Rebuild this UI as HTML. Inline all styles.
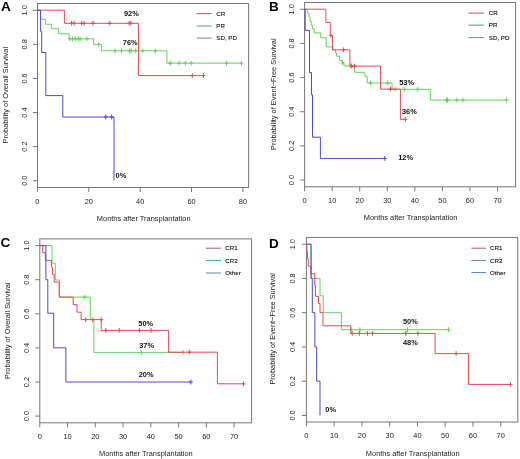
<!DOCTYPE html>
<html><head><meta charset="utf-8"><style>
html,body{margin:0;padding:0;background:#fff;}
svg{display:block;filter:blur(0.3px);}
text{font-family:"Liberation Sans",sans-serif;}
</style></head><body>
<svg width="520" height="459" viewBox="0 0 520 459">
<rect width="520" height="459" fill="#fff"/>
<rect x="37.5" y="3.5" width="211.1" height="184.0" fill="none" stroke="#777" stroke-width="1"/>
<line x1="37.40" y1="187.50" x2="37.40" y2="192.00" stroke="#777" stroke-width="1.0"/>
<text x="37.40" y="203.60" font-size="7.4" text-anchor="middle" fill="#222" font-weight="normal">0</text>
<line x1="88.78" y1="187.50" x2="88.78" y2="192.00" stroke="#777" stroke-width="1.0"/>
<text x="88.78" y="203.60" font-size="7.4" text-anchor="middle" fill="#222" font-weight="normal">20</text>
<line x1="140.16" y1="187.50" x2="140.16" y2="192.00" stroke="#777" stroke-width="1.0"/>
<text x="140.16" y="203.60" font-size="7.4" text-anchor="middle" fill="#222" font-weight="normal">40</text>
<line x1="191.54" y1="187.50" x2="191.54" y2="192.00" stroke="#777" stroke-width="1.0"/>
<text x="191.54" y="203.60" font-size="7.4" text-anchor="middle" fill="#222" font-weight="normal">60</text>
<line x1="242.92" y1="187.50" x2="242.92" y2="192.00" stroke="#777" stroke-width="1.0"/>
<text x="242.92" y="203.60" font-size="7.4" text-anchor="middle" fill="#222" font-weight="normal">80</text>
<line x1="33.00" y1="180.70" x2="37.50" y2="180.70" stroke="#777" stroke-width="1.0"/>
<text x="26.80" y="180.70" font-size="7.4" text-anchor="middle" fill="#222" font-weight="normal" transform="rotate(-90 26.80 180.70)">0.0</text>
<line x1="33.00" y1="146.62" x2="37.50" y2="146.62" stroke="#777" stroke-width="1.0"/>
<text x="26.80" y="146.62" font-size="7.4" text-anchor="middle" fill="#222" font-weight="normal" transform="rotate(-90 26.80 146.62)">0.2</text>
<line x1="33.00" y1="112.54" x2="37.50" y2="112.54" stroke="#777" stroke-width="1.0"/>
<text x="26.80" y="112.54" font-size="7.4" text-anchor="middle" fill="#222" font-weight="normal" transform="rotate(-90 26.80 112.54)">0.4</text>
<line x1="33.00" y1="78.46" x2="37.50" y2="78.46" stroke="#777" stroke-width="1.0"/>
<text x="26.80" y="78.46" font-size="7.4" text-anchor="middle" fill="#222" font-weight="normal" transform="rotate(-90 26.80 78.46)">0.6</text>
<line x1="33.00" y1="44.38" x2="37.50" y2="44.38" stroke="#777" stroke-width="1.0"/>
<text x="26.80" y="44.38" font-size="7.4" text-anchor="middle" fill="#222" font-weight="normal" transform="rotate(-90 26.80 44.38)">0.8</text>
<line x1="33.00" y1="10.30" x2="37.50" y2="10.30" stroke="#777" stroke-width="1.0"/>
<text x="26.80" y="10.30" font-size="7.4" text-anchor="middle" fill="#222" font-weight="normal" transform="rotate(-90 26.80 10.30)">1.0</text>
<text x="8.20" y="95.20" font-size="7.4" text-anchor="middle" fill="#222" font-weight="normal" transform="rotate(-90 8.20 95.20)">Probability of Overall Survival</text>
<text x="143.70" y="220.50" font-size="7.4" text-anchor="middle" fill="#222" font-weight="normal">Months after Transplantation</text>
<text x="0.90" y="10.60" font-size="13.5" text-anchor="start" fill="#000" font-weight="bold">A</text>
<line x1="196.70" y1="13.60" x2="211.70" y2="13.60" stroke="#c0505c" stroke-width="1.0"/>
<text x="216.30" y="15.80" font-size="6.2" text-anchor="start" fill="#111" font-weight="normal" stroke="#111" stroke-width="0.12">CR</text>
<line x1="196.70" y1="26.00" x2="211.70" y2="26.00" stroke="#48a870" stroke-width="1.0"/>
<text x="216.30" y="28.20" font-size="6.2" text-anchor="start" fill="#111" font-weight="normal" stroke="#111" stroke-width="0.12">PR</text>
<line x1="196.70" y1="38.10" x2="211.70" y2="38.10" stroke="#5a88c4" stroke-width="1.0"/>
<text x="216.30" y="40.30" font-size="6.2" text-anchor="start" fill="#111" font-weight="normal" stroke="#111" stroke-width="0.12">SD, PD</text>
<polyline points="37.40,10.20 40.80,10.20 40.80,19.30 45.60,19.30 45.60,24.30 51.40,24.30 51.40,28.70 58.60,28.70 58.60,33.80 69.20,33.80 69.20,38.80 93.70,38.80 93.70,44.40 101.40,44.40 101.40,50.80 166.90,50.80 166.90,63.10 241.50,63.10" fill="none" stroke="#5fd65a" stroke-width="1.0" stroke-linejoin="miter"/>
<line x1="69.60" y1="36.40" x2="69.60" y2="41.20" stroke="#5fd65a" stroke-width="1.0"/>
<line x1="67.60" y1="38.80" x2="71.60" y2="38.80" stroke="#5fd65a" stroke-width="1.0"/>
<line x1="72.50" y1="36.40" x2="72.50" y2="41.20" stroke="#5fd65a" stroke-width="1.0"/>
<line x1="70.50" y1="38.80" x2="74.50" y2="38.80" stroke="#5fd65a" stroke-width="1.0"/>
<line x1="75.40" y1="36.40" x2="75.40" y2="41.20" stroke="#5fd65a" stroke-width="1.0"/>
<line x1="73.40" y1="38.80" x2="77.40" y2="38.80" stroke="#5fd65a" stroke-width="1.0"/>
<line x1="78.30" y1="36.40" x2="78.30" y2="41.20" stroke="#5fd65a" stroke-width="1.0"/>
<line x1="76.30" y1="38.80" x2="80.30" y2="38.80" stroke="#5fd65a" stroke-width="1.0"/>
<line x1="80.20" y1="36.40" x2="80.20" y2="41.20" stroke="#5fd65a" stroke-width="1.0"/>
<line x1="78.20" y1="38.80" x2="82.20" y2="38.80" stroke="#5fd65a" stroke-width="1.0"/>
<line x1="86.90" y1="36.40" x2="86.90" y2="41.20" stroke="#5fd65a" stroke-width="1.0"/>
<line x1="84.90" y1="38.80" x2="88.90" y2="38.80" stroke="#5fd65a" stroke-width="1.0"/>
<line x1="98.80" y1="42.00" x2="98.80" y2="46.80" stroke="#5fd65a" stroke-width="1.0"/>
<line x1="96.80" y1="44.40" x2="100.80" y2="44.40" stroke="#5fd65a" stroke-width="1.0"/>
<line x1="115.10" y1="48.40" x2="115.10" y2="53.20" stroke="#5fd65a" stroke-width="1.0"/>
<line x1="113.10" y1="50.80" x2="117.10" y2="50.80" stroke="#5fd65a" stroke-width="1.0"/>
<line x1="121.50" y1="48.40" x2="121.50" y2="53.20" stroke="#5fd65a" stroke-width="1.0"/>
<line x1="119.50" y1="50.80" x2="123.50" y2="50.80" stroke="#5fd65a" stroke-width="1.0"/>
<line x1="129.50" y1="48.40" x2="129.50" y2="53.20" stroke="#5fd65a" stroke-width="1.0"/>
<line x1="127.50" y1="50.80" x2="131.50" y2="50.80" stroke="#5fd65a" stroke-width="1.0"/>
<line x1="131.20" y1="48.40" x2="131.20" y2="53.20" stroke="#5fd65a" stroke-width="1.0"/>
<line x1="129.20" y1="50.80" x2="133.20" y2="50.80" stroke="#5fd65a" stroke-width="1.0"/>
<line x1="135.70" y1="48.40" x2="135.70" y2="53.20" stroke="#5fd65a" stroke-width="1.0"/>
<line x1="133.70" y1="50.80" x2="137.70" y2="50.80" stroke="#5fd65a" stroke-width="1.0"/>
<line x1="142.80" y1="48.40" x2="142.80" y2="53.20" stroke="#5fd65a" stroke-width="1.0"/>
<line x1="140.80" y1="50.80" x2="144.80" y2="50.80" stroke="#5fd65a" stroke-width="1.0"/>
<line x1="155.40" y1="48.40" x2="155.40" y2="53.20" stroke="#5fd65a" stroke-width="1.0"/>
<line x1="153.40" y1="50.80" x2="157.40" y2="50.80" stroke="#5fd65a" stroke-width="1.0"/>
<line x1="170.40" y1="60.70" x2="170.40" y2="65.50" stroke="#5fd65a" stroke-width="1.0"/>
<line x1="168.40" y1="63.10" x2="172.40" y2="63.10" stroke="#5fd65a" stroke-width="1.0"/>
<line x1="179.20" y1="60.70" x2="179.20" y2="65.50" stroke="#5fd65a" stroke-width="1.0"/>
<line x1="177.20" y1="63.10" x2="181.20" y2="63.10" stroke="#5fd65a" stroke-width="1.0"/>
<line x1="185.40" y1="60.70" x2="185.40" y2="65.50" stroke="#5fd65a" stroke-width="1.0"/>
<line x1="183.40" y1="63.10" x2="187.40" y2="63.10" stroke="#5fd65a" stroke-width="1.0"/>
<line x1="191.20" y1="60.70" x2="191.20" y2="65.50" stroke="#5fd65a" stroke-width="1.0"/>
<line x1="189.20" y1="63.10" x2="193.20" y2="63.10" stroke="#5fd65a" stroke-width="1.0"/>
<line x1="226.50" y1="60.70" x2="226.50" y2="65.50" stroke="#5fd65a" stroke-width="1.0"/>
<line x1="224.50" y1="63.10" x2="228.50" y2="63.10" stroke="#5fd65a" stroke-width="1.0"/>
<line x1="241.50" y1="60.70" x2="241.50" y2="65.50" stroke="#5fd65a" stroke-width="1.0"/>
<line x1="239.50" y1="63.10" x2="243.50" y2="63.10" stroke="#5fd65a" stroke-width="1.0"/>
<polyline points="37.40,10.20 64.40,10.20 64.40,23.30 138.50,23.30 138.50,75.60 203.40,75.60" fill="none" stroke="#e8494f" stroke-width="1.0" stroke-linejoin="miter"/>
<line x1="71.60" y1="20.90" x2="71.60" y2="25.70" stroke="#e8494f" stroke-width="1.0"/>
<line x1="69.60" y1="23.30" x2="73.60" y2="23.30" stroke="#e8494f" stroke-width="1.0"/>
<line x1="74.00" y1="20.90" x2="74.00" y2="25.70" stroke="#e8494f" stroke-width="1.0"/>
<line x1="72.00" y1="23.30" x2="76.00" y2="23.30" stroke="#e8494f" stroke-width="1.0"/>
<line x1="81.60" y1="20.90" x2="81.60" y2="25.70" stroke="#e8494f" stroke-width="1.0"/>
<line x1="79.60" y1="23.30" x2="83.60" y2="23.30" stroke="#e8494f" stroke-width="1.0"/>
<line x1="84.00" y1="20.90" x2="84.00" y2="25.70" stroke="#e8494f" stroke-width="1.0"/>
<line x1="82.00" y1="23.30" x2="86.00" y2="23.30" stroke="#e8494f" stroke-width="1.0"/>
<line x1="93.00" y1="20.90" x2="93.00" y2="25.70" stroke="#e8494f" stroke-width="1.0"/>
<line x1="91.00" y1="23.30" x2="95.00" y2="23.30" stroke="#e8494f" stroke-width="1.0"/>
<line x1="109.80" y1="20.90" x2="109.80" y2="25.70" stroke="#e8494f" stroke-width="1.0"/>
<line x1="107.80" y1="23.30" x2="111.80" y2="23.30" stroke="#e8494f" stroke-width="1.0"/>
<line x1="129.20" y1="20.90" x2="129.20" y2="25.70" stroke="#e8494f" stroke-width="1.0"/>
<line x1="127.20" y1="23.30" x2="131.20" y2="23.30" stroke="#e8494f" stroke-width="1.0"/>
<line x1="130.90" y1="20.90" x2="130.90" y2="25.70" stroke="#e8494f" stroke-width="1.0"/>
<line x1="128.90" y1="23.30" x2="132.90" y2="23.30" stroke="#e8494f" stroke-width="1.0"/>
<line x1="192.30" y1="73.20" x2="192.30" y2="78.00" stroke="#e8494f" stroke-width="1.0"/>
<line x1="190.30" y1="75.60" x2="194.30" y2="75.60" stroke="#e8494f" stroke-width="1.0"/>
<line x1="203.40" y1="73.20" x2="203.40" y2="78.00" stroke="#e8494f" stroke-width="1.0"/>
<line x1="201.40" y1="75.60" x2="205.40" y2="75.60" stroke="#e8494f" stroke-width="1.0"/>
<polyline points="37.40,10.20 40.40,10.20 40.40,31.30 41.70,31.30 41.70,52.50 45.80,52.50 45.80,95.60 62.80,95.60 62.80,117.00 114.00,117.00 114.00,180.50" fill="none" stroke="#4a4ad0" stroke-width="1.0" stroke-linejoin="miter"/>
<line x1="105.80" y1="114.60" x2="105.80" y2="119.40" stroke="#4a4ad0" stroke-width="1.0"/>
<line x1="103.80" y1="117.00" x2="107.80" y2="117.00" stroke="#4a4ad0" stroke-width="1.0"/>
<line x1="111.70" y1="114.60" x2="111.70" y2="119.40" stroke="#4a4ad0" stroke-width="1.0"/>
<line x1="109.70" y1="117.00" x2="113.70" y2="117.00" stroke="#4a4ad0" stroke-width="1.0"/>
<text x="124.00" y="16.30" font-size="7.4" text-anchor="start" fill="#111" font-weight="bold">92%</text>
<text x="122.80" y="44.90" font-size="7.4" text-anchor="start" fill="#111" font-weight="bold">76%</text>
<text x="115.60" y="178.10" font-size="7.4" text-anchor="start" fill="#111" font-weight="bold">0%</text>
<rect x="304.6" y="2.5" width="211.0" height="184.3" fill="none" stroke="#777" stroke-width="1"/>
<line x1="304.60" y1="186.80" x2="304.60" y2="191.30" stroke="#777" stroke-width="1.0"/>
<text x="304.60" y="203.00" font-size="7.4" text-anchor="middle" fill="#222" font-weight="normal">0</text>
<line x1="332.16" y1="186.80" x2="332.16" y2="191.30" stroke="#777" stroke-width="1.0"/>
<text x="332.16" y="203.00" font-size="7.4" text-anchor="middle" fill="#222" font-weight="normal">10</text>
<line x1="359.72" y1="186.80" x2="359.72" y2="191.30" stroke="#777" stroke-width="1.0"/>
<text x="359.72" y="203.00" font-size="7.4" text-anchor="middle" fill="#222" font-weight="normal">20</text>
<line x1="387.28" y1="186.80" x2="387.28" y2="191.30" stroke="#777" stroke-width="1.0"/>
<text x="387.28" y="203.00" font-size="7.4" text-anchor="middle" fill="#222" font-weight="normal">30</text>
<line x1="414.84" y1="186.80" x2="414.84" y2="191.30" stroke="#777" stroke-width="1.0"/>
<text x="414.84" y="203.00" font-size="7.4" text-anchor="middle" fill="#222" font-weight="normal">40</text>
<line x1="442.40" y1="186.80" x2="442.40" y2="191.30" stroke="#777" stroke-width="1.0"/>
<text x="442.40" y="203.00" font-size="7.4" text-anchor="middle" fill="#222" font-weight="normal">50</text>
<line x1="469.96" y1="186.80" x2="469.96" y2="191.30" stroke="#777" stroke-width="1.0"/>
<text x="469.96" y="203.00" font-size="7.4" text-anchor="middle" fill="#222" font-weight="normal">60</text>
<line x1="497.52" y1="186.80" x2="497.52" y2="191.30" stroke="#777" stroke-width="1.0"/>
<text x="497.52" y="203.00" font-size="7.4" text-anchor="middle" fill="#222" font-weight="normal">70</text>
<line x1="300.10" y1="180.00" x2="304.60" y2="180.00" stroke="#777" stroke-width="1.0"/>
<text x="294.00" y="180.00" font-size="7.4" text-anchor="middle" fill="#222" font-weight="normal" transform="rotate(-90 294.00 180.00)">0.0</text>
<line x1="300.10" y1="145.86" x2="304.60" y2="145.86" stroke="#777" stroke-width="1.0"/>
<text x="294.00" y="145.86" font-size="7.4" text-anchor="middle" fill="#222" font-weight="normal" transform="rotate(-90 294.00 145.86)">0.2</text>
<line x1="300.10" y1="111.72" x2="304.60" y2="111.72" stroke="#777" stroke-width="1.0"/>
<text x="294.00" y="111.72" font-size="7.4" text-anchor="middle" fill="#222" font-weight="normal" transform="rotate(-90 294.00 111.72)">0.4</text>
<line x1="300.10" y1="77.58" x2="304.60" y2="77.58" stroke="#777" stroke-width="1.0"/>
<text x="294.00" y="77.58" font-size="7.4" text-anchor="middle" fill="#222" font-weight="normal" transform="rotate(-90 294.00 77.58)">0.6</text>
<line x1="300.10" y1="43.44" x2="304.60" y2="43.44" stroke="#777" stroke-width="1.0"/>
<text x="294.00" y="43.44" font-size="7.4" text-anchor="middle" fill="#222" font-weight="normal" transform="rotate(-90 294.00 43.44)">0.8</text>
<line x1="300.10" y1="9.30" x2="304.60" y2="9.30" stroke="#777" stroke-width="1.0"/>
<text x="294.00" y="9.30" font-size="7.4" text-anchor="middle" fill="#222" font-weight="normal" transform="rotate(-90 294.00 9.30)">1.0</text>
<text x="276.00" y="94.20" font-size="7.4" text-anchor="middle" fill="#222" font-weight="normal" transform="rotate(-90 276.00 94.20)">Probability of Event−Free Survival</text>
<text x="410.60" y="220.10" font-size="7.4" text-anchor="middle" fill="#222" font-weight="normal">Months after Transplantation</text>
<text x="269.10" y="10.80" font-size="13.5" text-anchor="start" fill="#000" font-weight="bold">B</text>
<line x1="468.50" y1="13.10" x2="484.20" y2="13.10" stroke="#c0505c" stroke-width="1.0"/>
<text x="488.80" y="15.30" font-size="6.2" text-anchor="start" fill="#111" font-weight="normal" stroke="#111" stroke-width="0.12">CR</text>
<line x1="468.50" y1="25.10" x2="484.20" y2="25.10" stroke="#48a870" stroke-width="1.0"/>
<text x="488.80" y="27.30" font-size="6.2" text-anchor="start" fill="#111" font-weight="normal" stroke="#111" stroke-width="0.12">PR</text>
<line x1="468.50" y1="37.60" x2="484.20" y2="37.60" stroke="#5a88c4" stroke-width="1.0"/>
<text x="488.80" y="39.80" font-size="6.2" text-anchor="start" fill="#111" font-weight="normal" stroke="#111" stroke-width="0.12">SD, PD</text>
<polyline points="304.60,9.20 307.20,9.20 307.20,13.20 309.00,13.20 309.00,17.20 310.00,17.20 310.00,21.20 311.20,21.20 311.20,25.20 312.40,25.20 312.40,29.00 314.20,29.00 314.20,32.90 320.70,32.90 320.70,37.70 326.20,37.70 326.20,46.90 332.80,46.90 332.80,50.00 335.50,50.00 335.50,53.00 336.50,53.00 336.50,56.20 339.60,56.20 339.60,60.50 342.40,60.50 342.40,62.90 344.00,62.90 344.00,65.90 354.60,65.90 354.60,72.30 364.80,72.30 364.80,76.30 367.30,76.30 367.30,83.00 392.10,83.00 392.10,89.30 430.30,89.30 430.30,100.10 506.60,100.10" fill="none" stroke="#5fd65a" stroke-width="1.0" stroke-linejoin="miter"/>
<line x1="342.40" y1="60.50" x2="342.40" y2="65.30" stroke="#5fd65a" stroke-width="1.0"/>
<line x1="340.40" y1="62.90" x2="344.40" y2="62.90" stroke="#5fd65a" stroke-width="1.0"/>
<line x1="351.10" y1="63.50" x2="351.10" y2="68.30" stroke="#5fd65a" stroke-width="1.0"/>
<line x1="349.10" y1="65.90" x2="353.10" y2="65.90" stroke="#5fd65a" stroke-width="1.0"/>
<line x1="370.50" y1="80.60" x2="370.50" y2="85.40" stroke="#5fd65a" stroke-width="1.0"/>
<line x1="368.50" y1="83.00" x2="372.50" y2="83.00" stroke="#5fd65a" stroke-width="1.0"/>
<line x1="387.80" y1="80.60" x2="387.80" y2="85.40" stroke="#5fd65a" stroke-width="1.0"/>
<line x1="385.80" y1="83.00" x2="389.80" y2="83.00" stroke="#5fd65a" stroke-width="1.0"/>
<line x1="395.00" y1="86.90" x2="395.00" y2="91.70" stroke="#5fd65a" stroke-width="1.0"/>
<line x1="393.00" y1="89.30" x2="397.00" y2="89.30" stroke="#5fd65a" stroke-width="1.0"/>
<line x1="404.10" y1="86.90" x2="404.10" y2="91.70" stroke="#5fd65a" stroke-width="1.0"/>
<line x1="402.10" y1="89.30" x2="406.10" y2="89.30" stroke="#5fd65a" stroke-width="1.0"/>
<line x1="417.70" y1="86.90" x2="417.70" y2="91.70" stroke="#5fd65a" stroke-width="1.0"/>
<line x1="415.70" y1="89.30" x2="419.70" y2="89.30" stroke="#5fd65a" stroke-width="1.0"/>
<line x1="446.50" y1="97.70" x2="446.50" y2="102.50" stroke="#5fd65a" stroke-width="1.0"/>
<line x1="444.50" y1="100.10" x2="448.50" y2="100.10" stroke="#5fd65a" stroke-width="1.0"/>
<line x1="447.60" y1="97.70" x2="447.60" y2="102.50" stroke="#5fd65a" stroke-width="1.0"/>
<line x1="445.60" y1="100.10" x2="449.60" y2="100.10" stroke="#5fd65a" stroke-width="1.0"/>
<line x1="456.80" y1="97.70" x2="456.80" y2="102.50" stroke="#5fd65a" stroke-width="1.0"/>
<line x1="454.80" y1="100.10" x2="458.80" y2="100.10" stroke="#5fd65a" stroke-width="1.0"/>
<line x1="462.90" y1="97.70" x2="462.90" y2="102.50" stroke="#5fd65a" stroke-width="1.0"/>
<line x1="460.90" y1="100.10" x2="464.90" y2="100.10" stroke="#5fd65a" stroke-width="1.0"/>
<line x1="506.60" y1="97.70" x2="506.60" y2="102.50" stroke="#5fd65a" stroke-width="1.0"/>
<line x1="504.60" y1="100.10" x2="508.60" y2="100.10" stroke="#5fd65a" stroke-width="1.0"/>
<polyline points="304.60,9.20 325.90,9.20 325.90,22.40 330.30,22.40 330.30,35.50 332.50,35.50 332.50,49.80 349.90,49.80 349.90,66.10 380.60,66.10 380.60,89.10 400.40,89.10 400.40,119.40 405.40,119.40" fill="none" stroke="#e8494f" stroke-width="1.0" stroke-linejoin="miter"/>
<line x1="331.00" y1="33.10" x2="331.00" y2="37.90" stroke="#e8494f" stroke-width="1.0"/>
<line x1="329.00" y1="35.50" x2="333.00" y2="35.50" stroke="#e8494f" stroke-width="1.0"/>
<line x1="343.40" y1="47.40" x2="343.40" y2="52.20" stroke="#e8494f" stroke-width="1.0"/>
<line x1="341.40" y1="49.80" x2="345.40" y2="49.80" stroke="#e8494f" stroke-width="1.0"/>
<line x1="351.20" y1="63.70" x2="351.20" y2="68.50" stroke="#e8494f" stroke-width="1.0"/>
<line x1="349.20" y1="66.10" x2="353.20" y2="66.10" stroke="#e8494f" stroke-width="1.0"/>
<line x1="354.50" y1="63.70" x2="354.50" y2="68.50" stroke="#e8494f" stroke-width="1.0"/>
<line x1="352.50" y1="66.10" x2="356.50" y2="66.10" stroke="#e8494f" stroke-width="1.0"/>
<line x1="390.50" y1="86.70" x2="390.50" y2="91.50" stroke="#e8494f" stroke-width="1.0"/>
<line x1="388.50" y1="89.10" x2="392.50" y2="89.10" stroke="#e8494f" stroke-width="1.0"/>
<line x1="405.40" y1="117.00" x2="405.40" y2="121.80" stroke="#e8494f" stroke-width="1.0"/>
<line x1="403.40" y1="119.40" x2="407.40" y2="119.40" stroke="#e8494f" stroke-width="1.0"/>
<polyline points="304.60,9.20 305.20,9.20 305.20,30.30 309.50,30.30 309.50,72.50 311.50,72.50 311.50,94.80 312.50,94.80 312.50,137.20 320.40,137.20 320.40,158.40 384.80,158.40" fill="none" stroke="#4a4ad0" stroke-width="1.0" stroke-linejoin="miter"/>
<line x1="384.80" y1="156.00" x2="384.80" y2="160.80" stroke="#4a4ad0" stroke-width="1.0"/>
<line x1="382.80" y1="158.40" x2="386.80" y2="158.40" stroke="#4a4ad0" stroke-width="1.0"/>
<text x="399.20" y="85.40" font-size="7.4" text-anchor="start" fill="#111" font-weight="bold">53%</text>
<text x="402.00" y="114.00" font-size="7.4" text-anchor="start" fill="#111" font-weight="bold">36%</text>
<text x="398.20" y="160.00" font-size="7.4" text-anchor="start" fill="#111" font-weight="bold">12%</text>
<rect x="39.8" y="238.9" width="211.8" height="183.9" fill="none" stroke="#777" stroke-width="1"/>
<line x1="39.80" y1="422.80" x2="39.80" y2="427.30" stroke="#777" stroke-width="1.0"/>
<text x="39.80" y="438.50" font-size="7.4" text-anchor="middle" fill="#222" font-weight="normal">0</text>
<line x1="67.56" y1="422.80" x2="67.56" y2="427.30" stroke="#777" stroke-width="1.0"/>
<text x="67.56" y="438.50" font-size="7.4" text-anchor="middle" fill="#222" font-weight="normal">10</text>
<line x1="95.32" y1="422.80" x2="95.32" y2="427.30" stroke="#777" stroke-width="1.0"/>
<text x="95.32" y="438.50" font-size="7.4" text-anchor="middle" fill="#222" font-weight="normal">20</text>
<line x1="123.08" y1="422.80" x2="123.08" y2="427.30" stroke="#777" stroke-width="1.0"/>
<text x="123.08" y="438.50" font-size="7.4" text-anchor="middle" fill="#222" font-weight="normal">30</text>
<line x1="150.84" y1="422.80" x2="150.84" y2="427.30" stroke="#777" stroke-width="1.0"/>
<text x="150.84" y="438.50" font-size="7.4" text-anchor="middle" fill="#222" font-weight="normal">40</text>
<line x1="178.60" y1="422.80" x2="178.60" y2="427.30" stroke="#777" stroke-width="1.0"/>
<text x="178.60" y="438.50" font-size="7.4" text-anchor="middle" fill="#222" font-weight="normal">50</text>
<line x1="206.36" y1="422.80" x2="206.36" y2="427.30" stroke="#777" stroke-width="1.0"/>
<text x="206.36" y="438.50" font-size="7.4" text-anchor="middle" fill="#222" font-weight="normal">60</text>
<line x1="234.12" y1="422.80" x2="234.12" y2="427.30" stroke="#777" stroke-width="1.0"/>
<text x="234.12" y="438.50" font-size="7.4" text-anchor="middle" fill="#222" font-weight="normal">70</text>
<line x1="35.30" y1="416.10" x2="39.80" y2="416.10" stroke="#777" stroke-width="1.0"/>
<text x="29.00" y="416.10" font-size="7.4" text-anchor="middle" fill="#222" font-weight="normal" transform="rotate(-90 29.00 416.10)">0.0</text>
<line x1="35.30" y1="382.00" x2="39.80" y2="382.00" stroke="#777" stroke-width="1.0"/>
<text x="29.00" y="382.00" font-size="7.4" text-anchor="middle" fill="#222" font-weight="normal" transform="rotate(-90 29.00 382.00)">0.2</text>
<line x1="35.30" y1="347.90" x2="39.80" y2="347.90" stroke="#777" stroke-width="1.0"/>
<text x="29.00" y="347.90" font-size="7.4" text-anchor="middle" fill="#222" font-weight="normal" transform="rotate(-90 29.00 347.90)">0.4</text>
<line x1="35.30" y1="313.80" x2="39.80" y2="313.80" stroke="#777" stroke-width="1.0"/>
<text x="29.00" y="313.80" font-size="7.4" text-anchor="middle" fill="#222" font-weight="normal" transform="rotate(-90 29.00 313.80)">0.6</text>
<line x1="35.30" y1="279.70" x2="39.80" y2="279.70" stroke="#777" stroke-width="1.0"/>
<text x="29.00" y="279.70" font-size="7.4" text-anchor="middle" fill="#222" font-weight="normal" transform="rotate(-90 29.00 279.70)">0.8</text>
<line x1="35.30" y1="245.60" x2="39.80" y2="245.60" stroke="#777" stroke-width="1.0"/>
<text x="29.00" y="245.60" font-size="7.4" text-anchor="middle" fill="#222" font-weight="normal" transform="rotate(-90 29.00 245.60)">1.0</text>
<text x="9.80" y="330.80" font-size="7.4" text-anchor="middle" fill="#222" font-weight="normal" transform="rotate(-90 9.80 330.80)">Probability of Overall Survival</text>
<text x="145.90" y="456.30" font-size="7.4" text-anchor="middle" fill="#222" font-weight="normal">Months after Transplantation</text>
<text x="0.60" y="247.40" font-size="13.5" text-anchor="start" fill="#000" font-weight="bold">C</text>
<line x1="205.90" y1="248.20" x2="221.00" y2="248.20" stroke="#c0505c" stroke-width="1.0"/>
<text x="225.30" y="250.40" font-size="6.2" text-anchor="start" fill="#111" font-weight="normal" stroke="#111" stroke-width="0.12">CR1</text>
<line x1="205.90" y1="260.60" x2="221.00" y2="260.60" stroke="#48a870" stroke-width="1.0"/>
<text x="225.30" y="262.80" font-size="6.2" text-anchor="start" fill="#111" font-weight="normal" stroke="#111" stroke-width="0.12">CR2</text>
<line x1="205.90" y1="273.00" x2="221.00" y2="273.00" stroke="#5a88c4" stroke-width="1.0"/>
<text x="225.30" y="275.20" font-size="6.2" text-anchor="start" fill="#111" font-weight="normal" stroke="#111" stroke-width="0.12">Other</text>
<polyline points="39.80,245.60 52.00,245.60 52.00,263.10 55.30,263.10 55.30,280.00 59.60,280.00 59.60,297.10 90.30,297.10 90.30,319.60 93.90,319.60 93.90,352.40 183.10,352.40" fill="none" stroke="#5fd65a" stroke-width="1.0" stroke-linejoin="miter"/>
<line x1="84.60" y1="294.70" x2="84.60" y2="299.50" stroke="#5fd65a" stroke-width="1.0"/>
<line x1="82.60" y1="297.10" x2="86.60" y2="297.10" stroke="#5fd65a" stroke-width="1.0"/>
<line x1="141.40" y1="350.00" x2="141.40" y2="354.80" stroke="#5fd65a" stroke-width="1.0"/>
<line x1="139.40" y1="352.40" x2="143.40" y2="352.40" stroke="#5fd65a" stroke-width="1.0"/>
<line x1="183.10" y1="350.00" x2="183.10" y2="354.80" stroke="#5fd65a" stroke-width="1.0"/>
<line x1="181.10" y1="352.40" x2="185.10" y2="352.40" stroke="#5fd65a" stroke-width="1.0"/>
<polyline points="39.80,245.60 42.70,245.60 42.70,252.70 45.40,252.70 45.40,260.30 51.40,260.30 51.40,267.40 52.60,267.40 52.60,274.50 54.20,274.50 54.20,282.10 59.10,282.10 59.10,297.10 73.20,297.10 73.20,304.60 77.00,304.60 77.00,312.20 81.10,312.20 81.10,319.60 101.20,319.60 101.20,330.40 168.60,330.40 168.60,352.20 217.40,352.20 217.40,383.80 243.50,383.80" fill="none" stroke="#e8494f" stroke-width="1.0" stroke-linejoin="miter"/>
<line x1="85.70" y1="317.20" x2="85.70" y2="322.00" stroke="#e8494f" stroke-width="1.0"/>
<line x1="83.70" y1="319.60" x2="87.70" y2="319.60" stroke="#e8494f" stroke-width="1.0"/>
<line x1="92.80" y1="317.20" x2="92.80" y2="322.00" stroke="#e8494f" stroke-width="1.0"/>
<line x1="90.80" y1="319.60" x2="94.80" y2="319.60" stroke="#e8494f" stroke-width="1.0"/>
<line x1="101.30" y1="317.20" x2="101.30" y2="322.00" stroke="#e8494f" stroke-width="1.0"/>
<line x1="99.30" y1="319.60" x2="103.30" y2="319.60" stroke="#e8494f" stroke-width="1.0"/>
<line x1="105.80" y1="328.00" x2="105.80" y2="332.80" stroke="#e8494f" stroke-width="1.0"/>
<line x1="103.80" y1="330.40" x2="107.80" y2="330.40" stroke="#e8494f" stroke-width="1.0"/>
<line x1="119.20" y1="328.00" x2="119.20" y2="332.80" stroke="#e8494f" stroke-width="1.0"/>
<line x1="117.20" y1="330.40" x2="121.20" y2="330.40" stroke="#e8494f" stroke-width="1.0"/>
<line x1="139.60" y1="328.00" x2="139.60" y2="332.80" stroke="#e8494f" stroke-width="1.0"/>
<line x1="137.60" y1="330.40" x2="141.60" y2="330.40" stroke="#e8494f" stroke-width="1.0"/>
<line x1="151.10" y1="328.00" x2="151.10" y2="332.80" stroke="#e8494f" stroke-width="1.0"/>
<line x1="149.10" y1="330.40" x2="153.10" y2="330.40" stroke="#e8494f" stroke-width="1.0"/>
<line x1="189.30" y1="349.80" x2="189.30" y2="354.60" stroke="#e8494f" stroke-width="1.0"/>
<line x1="187.30" y1="352.20" x2="191.30" y2="352.20" stroke="#e8494f" stroke-width="1.0"/>
<line x1="243.50" y1="381.40" x2="243.50" y2="386.20" stroke="#e8494f" stroke-width="1.0"/>
<line x1="241.50" y1="383.80" x2="245.50" y2="383.80" stroke="#e8494f" stroke-width="1.0"/>
<polyline points="39.80,245.60 45.90,245.60 45.90,279.70 47.80,279.70 47.80,313.20 53.70,313.20 53.70,347.80 65.90,347.80 65.90,382.00 190.90,382.00" fill="none" stroke="#4a4ad0" stroke-width="1.0" stroke-linejoin="miter"/>
<line x1="190.90" y1="379.60" x2="190.90" y2="384.40" stroke="#4a4ad0" stroke-width="1.0"/>
<line x1="188.90" y1="382.00" x2="192.90" y2="382.00" stroke="#4a4ad0" stroke-width="1.0"/>
<text x="138.30" y="326.10" font-size="7.4" text-anchor="start" fill="#111" font-weight="bold">50%</text>
<text x="139.20" y="347.90" font-size="7.4" text-anchor="start" fill="#111" font-weight="bold">37%</text>
<text x="138.75" y="377.20" font-size="7.4" text-anchor="start" fill="#111" font-weight="bold">20%</text>
<rect x="306.4" y="237.4" width="211.39999999999998" height="184.6" fill="none" stroke="#777" stroke-width="1"/>
<line x1="306.40" y1="422.00" x2="306.40" y2="426.50" stroke="#777" stroke-width="1.0"/>
<text x="306.40" y="438.00" font-size="7.4" text-anchor="middle" fill="#222" font-weight="normal">0</text>
<line x1="334.16" y1="422.00" x2="334.16" y2="426.50" stroke="#777" stroke-width="1.0"/>
<text x="334.16" y="438.00" font-size="7.4" text-anchor="middle" fill="#222" font-weight="normal">10</text>
<line x1="361.92" y1="422.00" x2="361.92" y2="426.50" stroke="#777" stroke-width="1.0"/>
<text x="361.92" y="438.00" font-size="7.4" text-anchor="middle" fill="#222" font-weight="normal">20</text>
<line x1="389.68" y1="422.00" x2="389.68" y2="426.50" stroke="#777" stroke-width="1.0"/>
<text x="389.68" y="438.00" font-size="7.4" text-anchor="middle" fill="#222" font-weight="normal">30</text>
<line x1="417.44" y1="422.00" x2="417.44" y2="426.50" stroke="#777" stroke-width="1.0"/>
<text x="417.44" y="438.00" font-size="7.4" text-anchor="middle" fill="#222" font-weight="normal">40</text>
<line x1="445.20" y1="422.00" x2="445.20" y2="426.50" stroke="#777" stroke-width="1.0"/>
<text x="445.20" y="438.00" font-size="7.4" text-anchor="middle" fill="#222" font-weight="normal">50</text>
<line x1="472.96" y1="422.00" x2="472.96" y2="426.50" stroke="#777" stroke-width="1.0"/>
<text x="472.96" y="438.00" font-size="7.4" text-anchor="middle" fill="#222" font-weight="normal">60</text>
<line x1="500.72" y1="422.00" x2="500.72" y2="426.50" stroke="#777" stroke-width="1.0"/>
<text x="500.72" y="438.00" font-size="7.4" text-anchor="middle" fill="#222" font-weight="normal">70</text>
<line x1="301.90" y1="415.40" x2="306.40" y2="415.40" stroke="#777" stroke-width="1.0"/>
<text x="295.40" y="415.40" font-size="7.4" text-anchor="middle" fill="#222" font-weight="normal" transform="rotate(-90 295.40 415.40)">0.0</text>
<line x1="301.90" y1="381.16" x2="306.40" y2="381.16" stroke="#777" stroke-width="1.0"/>
<text x="295.40" y="381.16" font-size="7.4" text-anchor="middle" fill="#222" font-weight="normal" transform="rotate(-90 295.40 381.16)">0.2</text>
<line x1="301.90" y1="346.92" x2="306.40" y2="346.92" stroke="#777" stroke-width="1.0"/>
<text x="295.40" y="346.92" font-size="7.4" text-anchor="middle" fill="#222" font-weight="normal" transform="rotate(-90 295.40 346.92)">0.4</text>
<line x1="301.90" y1="312.68" x2="306.40" y2="312.68" stroke="#777" stroke-width="1.0"/>
<text x="295.40" y="312.68" font-size="7.4" text-anchor="middle" fill="#222" font-weight="normal" transform="rotate(-90 295.40 312.68)">0.6</text>
<line x1="301.90" y1="278.44" x2="306.40" y2="278.44" stroke="#777" stroke-width="1.0"/>
<text x="295.40" y="278.44" font-size="7.4" text-anchor="middle" fill="#222" font-weight="normal" transform="rotate(-90 295.40 278.44)">0.8</text>
<line x1="301.90" y1="244.20" x2="306.40" y2="244.20" stroke="#777" stroke-width="1.0"/>
<text x="295.40" y="244.20" font-size="7.4" text-anchor="middle" fill="#222" font-weight="normal" transform="rotate(-90 295.40 244.20)">1.0</text>
<text x="275.50" y="328.80" font-size="7.4" text-anchor="middle" fill="#222" font-weight="normal" transform="rotate(-90 275.50 328.80)">Probability of Event−Free Survival</text>
<text x="412.70" y="455.70" font-size="7.4" text-anchor="middle" fill="#222" font-weight="normal">Months after Transplantation</text>
<text x="269.00" y="247.50" font-size="13.5" text-anchor="start" fill="#000" font-weight="bold">D</text>
<line x1="471.40" y1="248.20" x2="486.10" y2="248.20" stroke="#c0505c" stroke-width="1.0"/>
<text x="490.00" y="250.40" font-size="6.2" text-anchor="start" fill="#111" font-weight="normal" stroke="#111" stroke-width="0.12">CR1</text>
<line x1="471.40" y1="260.50" x2="486.10" y2="260.50" stroke="#48a870" stroke-width="1.0"/>
<text x="490.00" y="262.70" font-size="6.2" text-anchor="start" fill="#111" font-weight="normal" stroke="#111" stroke-width="0.12">CR2</text>
<line x1="471.40" y1="272.50" x2="486.10" y2="272.50" stroke="#5a88c4" stroke-width="1.0"/>
<text x="490.00" y="274.70" font-size="6.2" text-anchor="start" fill="#111" font-weight="normal" stroke="#111" stroke-width="0.12">Other</text>
<polyline points="306.40,244.20 311.00,244.20 311.00,278.40 320.00,278.40 320.00,295.80 323.30,295.80 323.30,312.70 341.40,312.70 341.40,329.70 448.50,329.70" fill="none" stroke="#5fd65a" stroke-width="1.0" stroke-linejoin="miter"/>
<line x1="350.90" y1="327.30" x2="350.90" y2="332.10" stroke="#5fd65a" stroke-width="1.0"/>
<line x1="348.90" y1="329.70" x2="352.90" y2="329.70" stroke="#5fd65a" stroke-width="1.0"/>
<line x1="359.90" y1="327.30" x2="359.90" y2="332.10" stroke="#5fd65a" stroke-width="1.0"/>
<line x1="357.90" y1="329.70" x2="361.90" y2="329.70" stroke="#5fd65a" stroke-width="1.0"/>
<line x1="407.50" y1="327.30" x2="407.50" y2="332.10" stroke="#5fd65a" stroke-width="1.0"/>
<line x1="405.50" y1="329.70" x2="409.50" y2="329.70" stroke="#5fd65a" stroke-width="1.0"/>
<line x1="448.50" y1="327.30" x2="448.50" y2="332.10" stroke="#5fd65a" stroke-width="1.0"/>
<line x1="446.50" y1="329.70" x2="450.50" y2="329.70" stroke="#5fd65a" stroke-width="1.0"/>
<polyline points="306.40,244.20 306.90,244.20 306.90,251.60 307.60,251.60 307.60,259.00 308.30,259.00 308.30,266.10 310.90,266.10 310.90,273.70 314.70,273.70 314.70,285.00 315.50,285.00 315.50,296.30 318.50,296.30 318.50,303.40 320.00,303.40 320.00,312.60 323.00,312.60 323.00,325.80 350.90,325.80 350.90,333.40 435.10,333.40 435.10,353.60 468.40,353.60 468.40,384.40 510.60,384.40" fill="none" stroke="#e8494f" stroke-width="1.0" stroke-linejoin="miter"/>
<line x1="352.20" y1="331.00" x2="352.20" y2="335.80" stroke="#e8494f" stroke-width="1.0"/>
<line x1="350.20" y1="333.40" x2="354.20" y2="333.40" stroke="#e8494f" stroke-width="1.0"/>
<line x1="359.30" y1="331.00" x2="359.30" y2="335.80" stroke="#e8494f" stroke-width="1.0"/>
<line x1="357.30" y1="333.40" x2="361.30" y2="333.40" stroke="#e8494f" stroke-width="1.0"/>
<line x1="367.40" y1="331.00" x2="367.40" y2="335.80" stroke="#e8494f" stroke-width="1.0"/>
<line x1="365.40" y1="333.40" x2="369.40" y2="333.40" stroke="#e8494f" stroke-width="1.0"/>
<line x1="372.40" y1="331.00" x2="372.40" y2="335.80" stroke="#e8494f" stroke-width="1.0"/>
<line x1="370.40" y1="333.40" x2="374.40" y2="333.40" stroke="#e8494f" stroke-width="1.0"/>
<line x1="405.90" y1="331.00" x2="405.90" y2="335.80" stroke="#e8494f" stroke-width="1.0"/>
<line x1="403.90" y1="333.40" x2="407.90" y2="333.40" stroke="#e8494f" stroke-width="1.0"/>
<line x1="417.90" y1="331.00" x2="417.90" y2="335.80" stroke="#e8494f" stroke-width="1.0"/>
<line x1="415.90" y1="333.40" x2="419.90" y2="333.40" stroke="#e8494f" stroke-width="1.0"/>
<line x1="456.10" y1="351.20" x2="456.10" y2="356.00" stroke="#e8494f" stroke-width="1.0"/>
<line x1="454.10" y1="353.60" x2="458.10" y2="353.60" stroke="#e8494f" stroke-width="1.0"/>
<line x1="510.60" y1="382.00" x2="510.60" y2="386.80" stroke="#e8494f" stroke-width="1.0"/>
<line x1="508.60" y1="384.40" x2="512.60" y2="384.40" stroke="#e8494f" stroke-width="1.0"/>
<polyline points="306.40,244.20 311.10,244.20 311.10,278.40 312.30,278.40 312.30,312.60 314.90,312.60 314.90,346.90 316.70,346.90 316.70,381.10 320.00,381.10 320.00,415.30" fill="none" stroke="#4a4ad0" stroke-width="1.0" stroke-linejoin="miter"/>
<text x="403.00" y="324.40" font-size="7.4" text-anchor="start" fill="#111" font-weight="bold">50%</text>
<text x="403.00" y="345.20" font-size="7.4" text-anchor="start" fill="#111" font-weight="bold">48%</text>
<text x="325.30" y="412.20" font-size="7.4" text-anchor="start" fill="#111" font-weight="bold">0%</text>
</svg>
</body></html>
